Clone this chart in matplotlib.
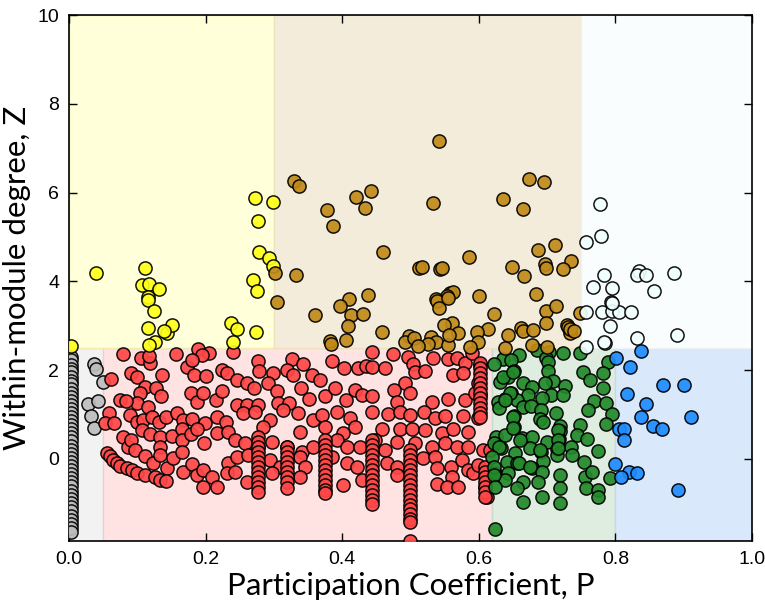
import numpy as np
import matplotlib
matplotlib.use("Agg")
import matplotlib.pyplot as plt
from matplotlib.patches import Rectangle

# role regions: (p0, p1, z0, z1, face, edge)
Z_LOW = -1.85
Z_TOP = 10.0
regions = [
    (0.00, 0.05, Z_LOW, 2.5, "#f2f2f2", "#e6e6e6"),
    (0.05, 0.62, Z_LOW, 2.5, "#ffe3e3", "#f5cccc"),
    (0.62, 0.80, Z_LOW, 2.5, "#dfece0", "#c9dccb"),
    (0.80, 1.00, Z_LOW, 2.5, "#d9e9fb", "#c2d9f2"),
    (0.00, 0.30, 2.5, Z_TOP, "#ffffd9", "#f3ecb0"),
    (0.30, 0.75, 2.5, Z_TOP, "#f4ecdb", "#efe2bf"),
    (0.75, 1.00, 2.5, Z_TOP, "#fafdfe", "#eef3f5"),
]

# ultra-peripheral (grey)
gray_p = [0.037, 0.039, 0.050, 0.028, 0.042, 0.032, 0.037] + [0.003] * 44
gray_z = [2.14, 2.03, 1.73, 1.24, 1.31, 0.97, 0.70,
          2.30, 2.22, 2.12, 2.03, 1.95, 1.85, 1.76, 1.68, 1.58, 1.49, 1.40,
          1.31, 1.22, 1.12, 1.03, 0.95, 0.86, 0.76, 0.67, 0.58, 0.49, 0.40,
          0.30, 0.21, 0.12, 0.03, -0.06, -0.16, -0.25, -0.34, -0.44, -0.53,
          -0.62, -0.72, -0.81, -0.90, -1.00, -1.09, -1.18, -1.28, -1.37,
          -1.46, -1.56, -1.65]

# peripheral (red)
red_p = [0.079, 0.105, 0.119, 0.117, 0.157, 0.189, 0.205, 0.195, 0.173, 0.180,
         0.183, 0.200, 0.224, 0.231, 0.061, 0.091, 0.100, 0.111, 0.127, 0.136,
         0.135, 0.104, 0.100, 0.075, 0.083, 0.116, 0.179, 0.187, 0.196, 0.215,
         0.224, 0.059, 0.053, 0.066, 0.089, 0.099, 0.108, 0.121, 0.132, 0.142,
         0.158, 0.167, 0.180, 0.199, 0.217, 0.230, 0.079, 0.086, 0.091, 0.107,
         0.119, 0.133, 0.133, 0.151, 0.165, 0.165, 0.179, 0.187, 0.198, 0.217,
         0.233, 0.097, 0.111, 0.123, 0.133, 0.143, 0.152, 0.165, 0.167, 0.180,
         0.187, 0.196, 0.209, 0.217, 0.196, 0.233, 0.231,
         0.055, 0.060, 0.065, 0.070, 0.075, 0.085, 0.092, 0.100, 0.112, 0.126,
         0.133, 0.142,
         0.240, 0.277, 0.278, 0.299, 0.326, 0.343, 0.319, 0.328, 0.356, 0.368,
         0.385, 0.403, 0.423, 0.435, 0.246, 0.261, 0.271, 0.291, 0.304, 0.306,
         0.322, 0.339, 0.351, 0.375, 0.389, 0.419, 0.406, 0.429, 0.246, 0.261,
         0.277, 0.255, 0.272, 0.294, 0.313, 0.335, 0.357, 0.370, 0.392, 0.411,
         0.419, 0.284, 0.338, 0.375, 0.401, 0.243, 0.258, 0.277, 0.297, 0.319,
         0.341, 0.357, 0.392, 0.407, 0.426, 0.246, 0.262, 0.294, 0.309, 0.338,
         0.346, 0.385, 0.407, 0.421, 0.243, 0.261, 0.297, 0.338, 0.401, 0.429,
         0.444, 0.474, 0.496, 0.504, 0.533, 0.555, 0.568, 0.580, 0.590, 0.602,
         0.444, 0.463, 0.507, 0.521, 0.562, 0.577, 0.492, 0.476, 0.499, 0.444,
         0.480, 0.531, 0.555, 0.580, 0.602, 0.599, 0.594, 0.444, 0.467, 0.485,
         0.499, 0.520, 0.536, 0.550, 0.577, 0.599, 0.458, 0.485, 0.502, 0.521,
         0.546, 0.562, 0.584, 0.448, 0.480, 0.507, 0.531, 0.550, 0.568, 0.584,
         0.463, 0.466, 0.480, 0.480, 0.519, 0.536, 0.539, 0.559, 0.561, 0.575,
         0.584, 0.592, 0.539, 0.553, 0.570, 0.599, 0.609, 0.612, 0.606, 0.616]
red_z = [2.36, 2.27, 2.16, 2.32, 2.36, 2.48, 2.39, 2.34, 2.07, 2.23,
         1.89, 1.87, 2.00, 1.94, 1.80, 1.94, 1.85, 1.62, 1.60, 1.89,
         1.42, 1.49, 1.26, 1.33, 1.31, 1.17, 1.49, 1.28, 1.49, 1.33,
         1.53, 1.04, 0.81, 0.81, 0.99, 0.83, 0.88, 0.95, 0.83, 0.95,
         1.04, 0.88, 0.90, 0.81, 0.95, 0.83, 0.50, 0.27, 0.43, 0.65,
         0.56, 0.50, 0.27, 0.52, 0.67, 0.43, 0.56, 0.67, 0.36, 0.59,
         0.61, 0.20, 0.07, -0.09, 0.09, -0.20, 0.02, 0.16, -0.29, -0.11,
         -0.36, -0.25, -0.40, -0.63, -0.63, -0.09, -0.32,
         0.14, 0.06, -0.02, -0.09, -0.16, -0.20, -0.25, -0.32, -0.36, -0.40,
         -0.47, -0.50,
         2.41, 2.21, 1.98, 1.94, 2.25, 2.14, 2.00, 1.89, 1.89, 1.78,
         2.21, 2.05, 2.05, 2.09, 1.78, 1.71, 1.60, 1.71, 1.53, 1.26,
         1.26, 1.60, 1.35, 1.42, 1.60, 1.55, 1.33, 1.44, 1.22, 1.22,
         1.22, 1.04, 1.06, 0.88, 1.10, 1.04, 0.88, 0.99, 1.06, 0.92,
         0.72, 0.72, 0.61, 0.72, 0.59, 0.43, 0.36, 0.27, 0.38, 0.27,
         0.16, 0.27, 0.43, 0.27, 0.27, 0.05, 0.09, -0.02, -0.18, 0.05,
         -0.18, 0.05, -0.09, -0.18, -0.29, -0.52, -0.32, -0.40, -0.59, -0.47,
         2.41, 2.36, 2.30, 2.14, 2.27, 2.25, 2.27, 2.16, 2.39, 2.12,
         2.07, 2.05, 1.96, 1.98, 1.89, 1.94, 1.71, 1.55, 1.49, 1.42,
         1.28, 1.28, 1.35, 1.33, 1.44, 1.71, 1.49, 1.06, 1.01, 1.06,
         0.99, 1.06, 0.92, 0.97, 0.97, 0.92, 0.67, 0.67, 0.67, 0.65,
         0.59, 0.67, 0.61, 0.43, 0.38, 0.36, 0.27, 0.36, 0.27, 0.27,
         0.20, -0.09, -0.18, -0.36, 0.02, 0.05, -0.20, -0.18, -0.40, -0.02,
         -0.25, -0.32, -0.56, -0.63, -0.63, -0.13, -0.63, -0.85, 0.20, 0.20]

# vertical stacks of peripheral nodes
red_cols_p = [0.277, 0.319, 0.375, 0.444, 0.500, 0.609, 0.602]
red_cols_z = [
    [0.50, 0.39, 0.27, 0.16, 0.05, -0.07, -0.18, -0.30, -0.41, -0.52, -0.63, -0.74],
    [0.27, 0.15, 0.05, -0.07, -0.19, -0.29, -0.41, -0.52, -0.65],
    [0.43, 0.31, 0.20, 0.09, -0.03, -0.14, -0.25, -0.36, -0.48, -0.59, -0.70, -0.77],
    [0.43, 0.32, 0.20, 0.08, -0.02, -0.14, -0.26, -0.36, -0.47, -0.59, -0.70, -0.81, -0.92, -1.02],
    [0.20, 0.09, -0.03, -0.14, -0.25, -0.36, -0.48, -0.59, -0.70, -0.81, -0.92, -1.03,
     -1.14, -1.25, -1.36, -1.42, -1.84],
    [-0.18, -0.29, -0.40, -0.52, -0.63, -0.74, -0.85],
    [2.16, 2.05, 1.94, 1.82, 1.71, 1.60, 1.49, 1.38, 1.26, 1.15, 1.04, 0.95],
]
for cp, cz in zip(red_cols_p, red_cols_z):
    red_p += [cp] * len(cz)
    red_z += cz

# non-hub connectors (green)
green_p = [0.685, 0.703, 0.723, 0.748, 0.659, 0.635, 0.622, 0.647, 0.698, 0.701,
           0.789, 0.651, 0.643, 0.631, 0.701, 0.708, 0.753, 0.763, 0.782, 0.665,
           0.678, 0.697, 0.726, 0.782, 0.647, 0.672, 0.706, 0.723, 0.638, 0.628,
           0.656, 0.692, 0.769, 0.786, 0.630, 0.665, 0.676, 0.691, 0.713, 0.760,
           0.795, 0.651, 0.690, 0.694, 0.748, 0.786, 0.719, 0.719, 0.651, 0.625,
           0.638, 0.663, 0.678, 0.700, 0.717, 0.744, 0.758, 0.633, 0.653, 0.675,
           0.691, 0.714, 0.735, 0.775, 0.641, 0.656, 0.694, 0.714, 0.737, 0.754,
           0.624, 0.643, 0.678, 0.692, 0.719, 0.755, 0.766, 0.792, 0.638, 0.665,
           0.687, 0.656, 0.719, 0.757, 0.775, 0.775, 0.665, 0.692, 0.719, 0.624,
           0.622, 0.630, 0.620, 0.622, 0.622, 0.624,
           0.636, 0.650, 0.646, 0.638, 0.650, 0.650, 0.660, 0.659, 0.675, 0.689,
           0.716, 0.716, 0.716]
green_z = [2.45, 2.41, 2.39, 2.39, 2.34, 2.25, 2.14, 2.23, 2.27, 2.18,
           2.18, 1.98, 1.85, 1.73, 1.98, 1.76, 1.96, 1.78, 1.94, 1.71,
           1.62, 1.71, 1.64, 1.60, 1.49, 1.44, 1.44, 1.44, 1.35, 1.28,
           1.33, 1.37, 1.31, 1.26, 1.15, 1.17, 1.19, 1.10, 1.04, 1.10,
           1.01, 0.97, 0.90, 0.83, 0.77, 0.79, 0.74, 0.63, 0.72, 0.50,
           0.54, 0.47, 0.50, 0.38, 0.45, 0.54, 0.45, 0.25, 0.14, 0.25,
           0.16, 0.23, 0.27, 0.18, -0.07, -0.09, -0.05, 0.09, 0.09, -0.07,
           -0.32, -0.32, -0.20, -0.29, -0.36, -0.40, -0.29, -0.43, -0.47, -0.52,
           -0.52, -0.65, -0.65, -0.65, -0.70, -0.85, -0.97, -0.85, -1.00, -1.58,
           0.36, 0.27, 0.05, -0.18, -0.36, -0.63,
           1.85, 1.96, 1.49, 1.33, 0.95, 0.70, 0.43, -0.09, -0.18, 0.20,
           0.65, 0.43, 0.25]

# kinless (blue)
blue_p = [0.838, 0.801, 0.822, 0.870, 0.900, 0.817, 0.845, 0.838, 0.911, 0.855,
          0.868, 0.805, 0.813, 0.812, 0.800, 0.820, 0.831, 0.808, 0.892]
blue_z = [2.43, 2.27, 2.07, 1.67, 1.67, 1.46, 1.24, 0.95, 0.95, 0.74,
          0.67, 0.67, 0.67, 0.43, -0.11, -0.29, -0.32, -0.40, -0.70]

# provincial hubs (yellow)
yellow_p = [0.040, 0.111, 0.107, 0.117, 0.132, 0.116, 0.272, 0.277, 0.299, 0.278,
            0.293, 0.299, 0.269, 0.275, 0.116, 0.125, 0.116, 0.143, 0.151, 0.139,
            0.126, 0.117, 0.237, 0.246, 0.274, 0.240, 0.003]
yellow_z = [4.19, 4.31, 3.92, 3.94, 3.83, 3.65, 5.88, 5.36, 5.79, 4.66,
            4.53, 4.35, 4.03, 3.78, 3.58, 3.33, 2.95, 2.84, 3.02, 2.89,
            2.64, 2.56, 3.06, 2.93, 2.86, 2.64, 2.55]

# connector hubs (tan)
tan_p = [0.329, 0.337, 0.378, 0.387, 0.420, 0.442, 0.433, 0.460, 0.332, 0.302,
         0.512, 0.438, 0.410, 0.305, 0.542, 0.673, 0.696, 0.533, 0.635, 0.665,
         0.711, 0.686, 0.586, 0.735, 0.649, 0.697, 0.698, 0.723, 0.666, 0.517,
         0.543, 0.546, 0.558, 0.562, 0.553, 0.601, 0.684, 0.538, 0.397, 0.413,
         0.430, 0.360, 0.408, 0.458, 0.382, 0.384, 0.405, 0.498, 0.492, 0.530,
         0.537, 0.555, 0.561, 0.549, 0.570, 0.557, 0.539, 0.542, 0.555, 0.622,
         0.613, 0.597, 0.599, 0.587, 0.643, 0.638, 0.662, 0.665, 0.698, 0.713,
         0.698, 0.729, 0.734, 0.748, 0.678, 0.505, 0.526, 0.511, 0.680, 0.700,
         0.731, 0.733, 0.740]
tan_z = [6.26, 6.15, 5.61, 5.25, 5.91, 6.04, 5.66, 4.66, 4.14, 4.18,
         4.30, 3.70, 3.60, 3.54, 7.16, 6.30, 6.24, 5.76, 5.86, 5.63,
         4.81, 4.71, 4.55, 4.46, 4.32, 4.39, 4.30, 4.28, 4.13, 4.33,
         4.29, 4.30, 3.74, 3.76, 3.67, 3.67, 3.72, 3.60, 3.45, 3.24,
         3.27, 3.24, 3.00, 2.86, 2.66, 2.60, 2.67, 2.77, 2.63, 2.75,
         2.63, 2.57, 3.06, 3.02, 2.84, 2.79, 3.56, 3.40, 3.63, 3.27,
         2.93, 2.86, 2.63, 2.52, 2.79, 2.50, 2.95, 2.88, 3.33, 3.45,
         3.06, 3.02, 2.84, 3.29, 2.57, 2.72, 2.60, 2.55, 2.90, 2.52,
         2.98, 2.92, 2.88]

# non-hub kinless (white)
white_p = [0.777, 0.779, 0.757, 0.783, 0.835, 0.831, 0.845, 0.886, 0.767, 0.795,
           0.857, 0.793, 0.757, 0.780, 0.795, 0.805, 0.823, 0.792, 0.831, 0.890,
           0.785, 0.757, 0.795, 0.784]
white_z = [5.75, 5.02, 4.89, 4.14, 4.23, 4.14, 4.14, 4.19, 3.87, 3.85,
           3.78, 3.54, 3.31, 3.31, 3.33, 3.31, 3.31, 3.00, 2.72, 2.79,
           2.61, 2.52, 3.52, 2.64]

groups = [
    (gray_p, gray_z, "#bdbdbd"),
    (red_p, red_z, "#ff4747"),
    (green_p, green_z, "#22892a"),
    (blue_p, blue_z, "#1e8cff"),
    (yellow_p, yellow_z, "#ffff1a"),
    (tan_p, tan_z, "#c08a1a"),
    (white_p, white_z, "#f0ffff"),
]

fig = plt.figure(figsize=(7.65, 6.04), dpi=100)
ax = fig.add_axes([0.0902, 0.1043, 0.8928, 0.8707])

for p0, p1, z0, z1, fc, ec in regions:
    ax.add_patch(Rectangle((p0, z0), p1 - p0, z1 - z0, facecolor=fc,
                           edgecolor=ec, lw=1.0, zorder=0))

for p, z, c in groups:
    ax.scatter(p, z, s=90, c=c, edgecolors="black", linewidths=1.1,
               alpha=0.92, zorder=3)

ax.set_xlim(0, 1)
ax.set_ylim(Z_LOW, Z_TOP)
ax.set_xticks([0.0, 0.2, 0.4, 0.6, 0.8, 1.0])
ax.set_yticks([0, 2, 4, 6, 8, 10])
tick_font = ["Liberation Sans", "DejaVu Sans"]
ax.tick_params(direction="in", top=True, right=True, length=6, width=1,
               labelsize=14, pad=7)
for lab in ax.get_xticklabels() + ax.get_yticklabels():
    lab.set_family(tick_font)
for sp in ax.spines.values():
    sp.set_linewidth(1.2)

ax.set_xlabel("Participation Coefficient, P", fontsize=22.5,
              family=["Lato", "DejaVu Sans"], labelpad=3)
ax.set_ylabel("Within-module degree, Z", fontsize=22.5,
              family=["Lato", "DejaVu Sans"], labelpad=5)

fig.savefig("out.png", dpi=100)
